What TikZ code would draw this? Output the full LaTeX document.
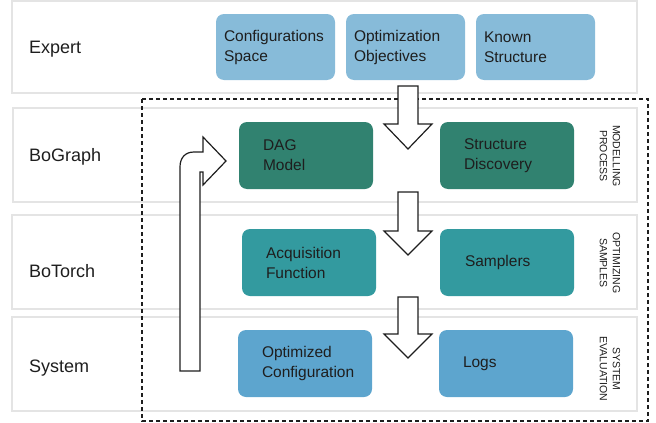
\documentclass[tikz,border=0pt]{standalone}
\usepackage{fontspec}
\setmainfont{Liberation Sans}
\definecolor{expblue}{HTML}{87BBD9}
\definecolor{dagreen}{HTML}{318270}
\definecolor{torchteal}{HTML}{339A9F}
\definecolor{sysblue}{HTML}{5DA5CE}
\definecolor{lanegray}{HTML}{E4E4E4}
\definecolor{inkgray}{HTML}{1E1E1E}
\begin{document}
\begin{tikzpicture}[x=1pt,y=-1pt,
  lane/.style={draw=lanegray, line width=1.3pt},
  box/.style={fill=#1, rounded corners=8pt, inner sep=0pt, minimum height=67pt},
  boxtext/.style={anchor=west, align=left, inner sep=0pt, text=inkgray,
    font=\fontsize{15.5}{20}\selectfont},
  lanelabel/.style={anchor=base west, inner sep=0pt, text=inkgray,
    font=\fontsize{18}{22}\selectfont},
  sidelabel/.style={rotate=-90, align=center, inner sep=0pt, text=inkgray,
    font=\fontsize{10.5}{13}\selectfont},
  blockarrow/.style={draw=inkgray, line width=1.2pt, fill=white, line join=miter}
]
\useasboundingbox (0,0) rectangle (656,423);

% swim lanes
\draw[lane] (12,1) rectangle (637,93);
\draw[lane] (13,108) rectangle (637,202);
\draw[lane] (12,215) rectangle (637,309);
\draw[lane] (12,317) rectangle (637,411);

% lane labels
\node[lanelabel] (lExpert) at (29,53.5) {Expert};
\node[lanelabel] (lBoGraph) at (29,161.8) {BoGraph};
\node[lanelabel] (lBoTorch) at (29,277.7) {BoTorch};
\node[lanelabel] (lSystem) at (29,372.3) {System};

% dashed frame
\draw[line width=1.2pt, dash pattern=on 4pt off 3pt, draw=inkgray] (142,99) rectangle (648,421);

% Expert boxes
\node[box=expblue, minimum width=119pt, minimum height=66pt] (cs) at (275.5,47) {};
\node[boxtext] (cst) at ([xshift=8pt]cs.west) {Configurations\\Space};
\node[box=expblue, minimum width=119pt, minimum height=66pt] (oo) at (405.5,47) {};
\node[boxtext] (oot) at ([xshift=8pt]oo.west) {Optimization\\Objectives};
\node[box=expblue, minimum width=119pt, minimum height=66pt] (ks) at (535.5,47) {};
\node[boxtext] (kst) at ([xshift=8pt]ks.west) {Known\\Structure};

% BoGraph boxes
\node[box=dagreen, minimum width=134pt] (dag) at (306,155.5) {};
\node[boxtext] (dagt) at ([xshift=24pt]dag.west) {DAG\\Model};
\node[box=dagreen, minimum width=134pt] (sd) at (507,155.5) {};
\node[boxtext] (sdt) at ([xshift=24pt]sd.west) {Structure\\Discovery};

% BoTorch boxes
\node[box=torchteal, minimum width=134pt] (af) at (309,262.5) {};
\node[boxtext] (aft) at ([xshift=24pt]af.west) {Acquisition\\Function};
\node[box=torchteal, minimum width=134pt] (sa) at (507,262.5) {};
\node[boxtext] (sat) at ([xshift=25pt]sa.west) {Samplers};

% System boxes
\node[box=sysblue, minimum width=134pt] (oc) at (305,363.5) {};
\node[boxtext] (oct) at ([xshift=24pt]oc.west) {Optimized\\Configuration};
\node[box=sysblue, minimum width=134pt] (lg) at (506,363.5) {};
\node[boxtext] (lgt) at ([xshift=24pt]lg.west) {Logs};

% side labels
\node[sidelabel] (sMod) at (610,156) {MODELLING\\PROCESS};
\node[sidelabel] (sOpt) at (610,263) {OPTIMIZING\\SAMPLES};
\node[sidelabel] (sSys) at (610,369) {SYSTEM\\EVALUATION};

% down block arrows
\draw[blockarrow] (398,86) -- (418,86) -- (418,124) -- (432,124) -- (408,149) -- (384,124) -- (398,124) -- cycle;
\draw[blockarrow] (398,192) -- (418,192) -- (418,231) -- (432,231) -- (408,255) -- (384,231) -- (398,231) -- cycle;
\draw[blockarrow] (398,297) -- (418,297) -- (418,334) -- (432,334) -- (408,358) -- (384,334) -- (398,334) -- cycle;

% feedback bent arrow
\draw[blockarrow] (200,371) -- (180,371) -- (180,167)
  .. controls (180,158) and (185,152) .. (194,152)
  -- (203,152) -- (203,137) -- (226,161) -- (203,185) -- (203,172) -- (200,172) -- cycle;
\end{tikzpicture}
\end{document}
